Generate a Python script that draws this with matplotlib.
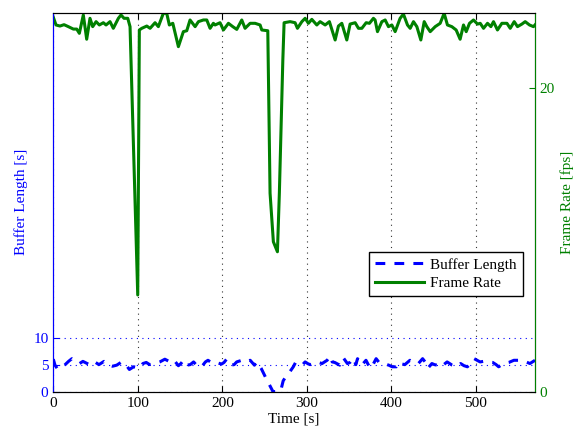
import matplotlib
matplotlib.use("Agg")
import matplotlib.pyplot as plt

# Buffer length [s] vs time [s]
t_buf = [0, 2, 5, 9, 14, 18, 22, 27, 31, 35, 40, 44, 49, 54, 60, 66, 70, 75, 81, 85,
         90, 95, 99, 103, 106, 110, 114, 120, 126, 132, 137, 141, 144, 148, 151, 154,
         158, 162, 166, 170, 173, 176, 180, 183, 189, 195, 199, 202, 205, 210, 214,
         217, 225, 229, 233, 238, 241, 246, 251, 255, 258, 260, 269, 272, 276, 280,
         284, 287, 292, 295, 298, 302, 305, 308, 312, 318, 324, 328, 330, 333, 339,
         343, 348, 351, 355, 358, 360, 365, 370, 375, 378, 382, 386, 391, 397, 401,
         406, 410, 413, 416, 422, 427, 432, 437, 440, 443, 448, 451, 454, 459, 462,
         466, 472, 477, 482, 486, 490, 494, 498, 505, 509, 513, 520, 524, 527, 533,
         539, 545, 553, 558, 564, 570]
buffer_len = [6.0, 4.9, 4.2, 4.4, 5.0, 5.6, 6.1, 5.5, 5.2, 5.6, 5.2, 4.9, 5.5, 5.0, 5.6,
              4.9, 4.7, 4.9, 5.5, 5.2, 4.1, 4.6, 4.5, 4.4, 5.2, 5.4, 5.0, 5.2, 5.5, 6.0,
              5.6, 5.2, 5.6, 4.8, 5.2, 5.8, 4.9, 5.0, 5.5, 4.8, 4.5, 4.7, 5.5, 5.8, 5.2,
              5.3, 5.1, 5.4, 6.0, 4.9, 5.0, 5.5, 5.9, 5.6, 5.8, 4.9, 5.5, 4.3, 2.7, 1.5,
              0.6, 0.0, 0.1, 2.0, 3.0, 3.7, 4.6, 5.5, 5.1, 5.0, 5.5, 5.1, 5.0, 5.2, 5.5,
              5.2, 5.8, 6.6, 5.5, 5.4, 4.9, 6.3, 5.2, 5.4, 6.2, 5.0, 6.1, 4.9, 5.8, 4.3,
              4.9, 6.1, 5.3, 5.2, 4.9, 4.6, 4.6, 5.5, 5.1, 5.0, 5.8, 5.3, 5.2, 6.1, 5.5,
              4.3, 5.2, 5.0, 4.9, 5.4, 5.0, 5.5, 4.9, 4.6, 5.2, 4.8, 4.6, 5.2, 6.1, 5.5,
              5.6, 5.5, 5.4, 5.0, 4.6, 5.2, 5.4, 5.8, 5.8, 5.6, 5.2, 5.8]

# Frame rate [fps] vs time [s]
t_fps = [0, 3.2, 7.9, 12.7, 17.8, 23.7, 27.7, 30.8, 35.5, 39.5, 43.4, 46.6, 50.6, 54.5,
         59.2, 62.4, 67.1, 71.0, 77.0, 80.1, 83.7, 88.1, 90.8, 99.9, 101.8, 104.7,
         110.6, 114.5, 120.4, 124.3, 130.2, 134.2, 137.3, 141.4, 148.0, 153.9, 157.9,
         161.8, 167.8, 171.7, 177.6, 181.6, 185.5, 189.4, 191.4, 197.3, 201.3, 207.2,
         212.4, 217.1, 223.0, 226.9, 232.9, 238.8, 244.7, 246.7, 253.8, 256.5, 260.4,
         265.2, 267.5, 271.6, 273.1, 280.2, 286.1, 288.9, 294.1, 298.0, 301.9, 305.9,
         311.8, 315.7, 321.7, 326.7, 333.5, 337.4, 341.4, 347.3, 351.2, 357.2, 361.1,
         365.1, 370.2, 374.1, 378.8, 380.8, 383.6, 388.8, 392.7, 396.6, 400.6, 404.5,
         410.4, 414.3, 419.1, 422.3, 426.2, 430.2, 434.9, 438.9, 442.0, 446.0, 451.9,
         457.8, 462.5, 466.4, 471.6, 476.7, 481.4, 485.4, 488.6, 492.5, 497.2, 502.0,
         505.2, 509.1, 513.8, 517.8, 520.9, 525.6, 530.8, 536.8, 540.7, 545.4, 549.3,
         554.5, 558.4, 563.5, 568.2, 572.3]
frame_rate = [24.70, 24.19, 24.12, 24.21, 24.08, 23.92, 23.92, 23.64, 24.85, 23.25, 24.63,
              24.08, 24.41, 24.19, 24.34, 24.19, 24.41, 23.97, 24.63, 24.85, 24.63, 24.63,
              24.08, 6.38, 23.86, 23.97, 24.12, 23.97, 24.34, 24.08, 24.96, 24.96, 24.19,
              24.30, 22.76, 23.75, 23.81, 24.52, 24.08, 24.41, 24.52, 24.52, 23.97, 24.30,
              24.19, 24.34, 23.86, 24.30, 24.08, 23.90, 24.52, 23.97, 24.30, 24.30, 24.19,
              23.86, 23.81, 13.09, 9.89, 9.23, 13.11, 21.88, 24.34, 24.41, 24.34, 23.97,
              24.41, 24.63, 24.30, 24.56, 24.19, 24.41, 24.19, 24.41, 23.20, 24.12, 24.30,
              23.20, 24.25, 24.34, 23.97, 23.97, 24.34, 24.30, 24.63, 24.52, 23.75, 24.41,
              24.52, 24.08, 24.19, 23.75, 24.63, 24.91, 24.19, 23.97, 24.41, 24.08, 23.20,
              24.41, 24.08, 23.75, 24.08, 24.30, 24.96, 24.19, 24.08, 23.86, 23.25, 24.19,
              23.75, 24.30, 24.52, 24.25, 24.30, 23.97, 24.30, 24.08, 24.41, 23.86, 24.30,
              24.30, 23.97, 24.41, 24.08, 24.25, 24.41, 24.19, 24.08, 24.34]

x_ticks = [0, 100, 200, 300, 400, 500]
buf_ticks = [0, 5, 10]
fps_ticks = [0, 20]

plt.rcParams['font.family'] = ['Liberation Serif', 'DejaVu Serif']
plt.rcParams['font.size'] = 11

BLUE = '#0000ff'
GREEN = '#008000'

fig = plt.figure(figsize=(5.77, 4.32), dpi=100)
ax1 = fig.add_axes([0.0924, 0.0933, 0.8348, 0.8773])
l1, = ax1.plot(t_buf, buffer_len, color=BLUE, lw=2.2, ls=(0, (3.2, 3.0)),
               label='Buffer Length')
ax1.set_xlim(0, 570)
ax1.set_ylim(0, 70)
ax1.set_xticks(x_ticks)
ax1.set_yticks(buf_ticks)
ax1.xaxis.grid(True, ls=(0, (1, 4)), color='#333333', lw=0.8)
ax1.yaxis.grid(True, ls=(0, (1, 4)), color=BLUE, lw=0.8)
ax1.set_axisbelow(True)
ax1.tick_params(axis='x', direction='in', top=True, length=4, colors='k')
ax1.tick_params(axis='y', direction='in', right=True, length=4, colors=BLUE,
                labelcolor=BLUE)
ax1.set_xlabel('Time [s]', labelpad=2)
ax1.set_ylabel('Buffer Length [s]', color=BLUE)
ax1.spines['left'].set_color(BLUE)

ax2 = ax1.twinx()
l2, = ax2.plot(t_fps, frame_rate, color=GREEN, lw=2.2, label='Frame Rate')
ax2.set_ylim(0, 25)
ax2.set_yticks(fps_ticks)
ax2.tick_params(axis='y', direction='in', length=4, colors=GREEN, labelcolor=GREEN)
ax2.set_ylabel('Frame Rate [fps]', color=GREEN)
ax2.spines['right'].set_color(GREEN)
ax2.spines['left'].set_color(BLUE)
ax2.spines['top'].set_color('k')
ax2.spines['bottom'].set_color('k')

leg = ax2.legend(handles=[l1, l2], loc='lower right',
                 bbox_to_anchor=(0.9745, 0.2525), fancybox=False,
                 edgecolor='k', framealpha=1, handlelength=3.2,
                 borderpad=0.4, labelspacing=0.3, handletextpad=0.4,
                 borderaxespad=0)
leg.get_frame().set_linewidth(1.0)

fig.savefig('out.png', dpi=100)
